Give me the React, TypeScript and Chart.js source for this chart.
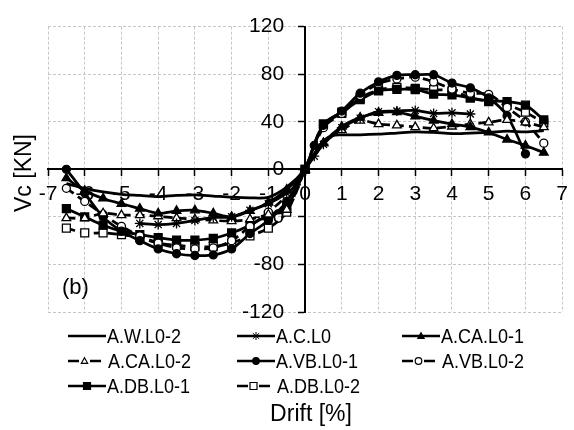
import React, { useEffect, useRef } from "react";
import { Chart, registerables } from "chart.js";

Chart.register(...registerables);

// ---------- data ----------
const seriesNames = [
  "A.W.L0-2",
  "A.C.L0",
  "A.CA.L0-1",
  "A.CA.L0-2",
  "A.VB.L0-1",
  "A.VB.L0-2",
  "A.DB.L0-1",
  "A.DB.L0-2",
];

const xTicksMin = -7;
const xTicksMax = 7;
const yTicksMin = -120;
const yTicksMax = 120;

const awl02Drift = [-6.5, -6, -5.5, -5, -4.5, -4, -3.5, -3, -2.5, -2, -1.5, -1, -0.5, 0, 0.25, 0.5, 0.75, 1, 1.5, 2, 2.5, 3, 3.5, 4, 4.5, 5, 5.5, 6, 6.5];
const awl02Vc = [-12, -16, -19, -21, -22, -23, -22, -21.5, -22.5, -23.5, -24, -23.5, -15, 0, 13, 24, 28.5, 29, 29, 29.5, 30.5, 31.5, 31, 30, 30.5, 31, 32, 31.5, 32.5];

const acl0Drift = [-4.5, -4, -3.5, -3, -2.5, -2, -1.5, -1, -0.5, -0.25, 0, 0.25, 0.5, 1, 1.5, 2, 2.5, 3, 3.5, 4, 4.5];
const acl0Vc = [-45.5, -46.5, -45.5, -43, -40.5, -40, -34.5, -29, -20, -13, 0, 11, 21, 35, 43, 48.5, 49, 49.5, 47, 47.5, 46.5];

const aca1Drift = [-6.5, -6, -5.5, -5, -4.5, -4, -3.5, -3, -2.5, -2, -1.5, -1, -0.5, 0, 0.5, 1, 1.5, 2, 2.5, 3, 3.5, 4, 4.5, 5, 5.5, 6, 6.5];
const aca1Vc = [-7.5, -18, -24.5, -29, -33, -37, -35, -34.5, -37, -40, -35, -28, -17, 0, 22, 36, 43.5, 47.5, 48, 44.5, 41, 38, 35.5, 31, 25, 20, 14];

const aca2Drift = [-6.5, -6, -5.5, -5, -4.5, -4, -3.5, -3, -2.5, -2, -1.5, -1, -0.5, 0, 0.5, 1, 1.5, 2, 2.5, 3, 3.5, 4, 4.5, 5, 5.5, 6, 6.5];
const aca2Vc = [-41, -41, -37, -38.5, -38.5, -39.5, -41, -42, -43, -43.5, -42, -38, -34, 0, 22, 33, 41, 38, 37, 35.5, 34.5, 36, 38, 39.5, 41.5, 39.5, 35.5];

const avb1Drift = [-6.5, -6, -5.5, -5, -4.5, -4, -3.5, -3, -2.5, -2, -1.5, -1, -0.5, 0, 0.25, 0.5, 1, 1.5, 2, 2.5, 3, 3.5, 4, 4.5, 5, 5.5, 6];
const avb1Vc = [0, -20, -40, -52, -60, -67, -71, -72.5, -72, -67, -54, -43, -27, 0, 20, 37, 49, 64, 73.5, 79, 79.5, 79.5, 72.5, 68.5, 60, 45, 13];

const avb2Drift = [-6.5, -6, -5.5, -5, -4.5, -4, -3.5, -3, -2.5, -2, -1.5, -1, -0.5, 0, 0.5, 1, 1.5, 2, 2.5, 3, 3.5, 4, 4.5, 5, 5.5, 6, 6.5];
const avb2Vc = [-16, -27, -38, -48, -56, -62, -66, -67, -66, -60, -48, -36, -22, 0, 35, 47, 62, 72, 76, 77.5, 73.5, 67.5, 64, 63, 52, 40, 22];

const adb1Drift = [-6.5, -6, -5.5, -5, -4.5, -4, -3.5, -3, -2.5, -2, -1.5, -1, -0.5, 0, 0.5, 1, 1.5, 2, 2.5, 3, 3.5, 4, 4.5, 5, 5.5, 6, 6.5];
const adb1Vc = [-33, -40, -47, -52, -55, -57.5, -59.5, -59.5, -58, -53.5, -47, -38.5, -31.5, 0, 38, 48, 58.5, 66, 67.3, 67, 63.3, 62.5, 60, 57.5, 57, 54, 41.5];

const adb2Drift = [-6.5, -6, -5.5, -5, -4.5, -4, -3.5, -3, -2.5, -2, -1.5, -1, -0.5, 0, 0.5, 1, 1.5, 2, 2.5, 3, 3.5, 4, 4.5, 5, 5.5, 6, 6.5];
const adb2Vc = [-49.5, -53.5, -53.5, -55, -57.5, -62, -64, -65, -65, -62, -56, -49.5, -36, 0, 38, 47, 60, 66.5, 69, 68, 67, 66, 60, 57, 54, 48, 39];

// ---------- styles ----------
const FONT = '"Liberation Sans", Arial, sans-serif';
type Marker = "none" | "star" | "triangle" | "circle" | "rect";
const seriesStyle: { marker: Marker; open: boolean; dashed: boolean }[] = [
  { marker: "none", open: false, dashed: false },
  { marker: "star", open: false, dashed: false },
  { marker: "triangle", open: false, dashed: false },
  { marker: "triangle", open: true, dashed: true },
  { marker: "circle", open: false, dashed: false },
  { marker: "circle", open: true, dashed: true },
  { marker: "rect", open: false, dashed: false },
  { marker: "rect", open: true, dashed: true },
];
const seriesData = [
  [awl02Drift, awl02Vc],
  [acl0Drift, acl0Vc],
  [aca1Drift, aca1Vc],
  [aca2Drift, aca2Vc],
  [avb1Drift, avb1Vc],
  [avb2Drift, avb2Vc],
  [adb1Drift, adb1Vc],
  [adb2Drift, adb2Vc],
];

function markerRadius(m: Marker) {
  if (m === "rect") return 5.6;
  if (m === "triangle") return 5;
  if (m === "star") return 5;
  return 4;
}

function drawMarker(ctx: CanvasRenderingContext2D, m: Marker, open: boolean, x: number, y: number, r: number) {
  ctx.save();
  ctx.lineWidth = 1.2;
  ctx.strokeStyle = "#000";
  ctx.fillStyle = open ? "#fff" : "#000";
  ctx.setLineDash([]);
  ctx.beginPath();
  if (m === "circle") {
    ctx.arc(x, y, r, 0, Math.PI * 2);
    ctx.fill();
    ctx.stroke();
  } else if (m === "rect") {
    ctx.rect(x - r, y - r, 2 * r, 2 * r);
    ctx.fill();
    ctx.stroke();
  } else if (m === "triangle") {
    ctx.moveTo(x, y - r);
    ctx.lineTo(x + r * 0.95, y + r * 0.7);
    ctx.lineTo(x - r * 0.95, y + r * 0.7);
    ctx.closePath();
    ctx.fill();
    ctx.stroke();
  } else if (m === "star") {
    ctx.lineWidth = 1;
    ctx.moveTo(x, y - r);
    ctx.lineTo(x, y + r);
    ctx.moveTo(x - r * 0.8, y - r * 0.7);
    ctx.lineTo(x + r * 0.8, y + r * 0.7);
    ctx.moveTo(x - r * 0.8, y + r * 0.7);
    ctx.lineTo(x + r * 0.8, y - r * 0.7);
    ctx.stroke();
  }
  ctx.restore();
}

const legendColX = [68, 237, 402];
const legendRowY = [336, 361, 386];

const overlayPlugin = {
  id: "overlay",
  afterDraw(chart: any) {
    const ctx: CanvasRenderingContext2D = chart.ctx;
    ctx.save();
    // legend
    ctx.textBaseline = "middle";
    ctx.textAlign = "left";
    seriesNames.forEach((name, i) => {
      const st = seriesStyle[i];
      const x0 = legendColX[i % 3];
      const y = legendRowY[Math.floor(i / 3)];
      const len = 38;
      ctx.strokeStyle = "#000";
      ctx.lineWidth = 2.5;
      ctx.beginPath();
      if (st.dashed) {
        ctx.moveTo(x0, y);
        ctx.lineTo(x0 + 11, y);
        ctx.moveTo(x0 + 22, y);
        ctx.lineTo(x0 + 33, y);
      } else {
        ctx.moveTo(x0, y);
        ctx.lineTo(x0 + len, y);
      }
      ctx.stroke();
      const mx = st.dashed ? x0 + 16.5 : x0 + len / 2;
      if (st.marker !== "none") {
        drawMarker(ctx, st.marker, st.open, mx, y, st.marker === "rect" ? 3.5 : st.marker === "star" ? 4 : 3.3);
      }
      ctx.fillStyle = "#000";
      ctx.save();
      ctx.translate(x0 + (st.dashed ? 40 : len + 1), y + 1);
      ctx.scale(0.9, 1);
      ctx.font = `20px ${FONT}`;
      ctx.fillText(name, 0, 0);
      ctx.restore();
    });
    // axis titles and panel label
    ctx.fillStyle = "#000";
    ctx.font = `23px ${FONT}`;
    ctx.textAlign = "center";
    ctx.fillText("Drift [%]", 311, 415);
    ctx.save();
    ctx.translate(25, 173);
    ctx.rotate(-Math.PI / 2);
    ctx.fillText("Vc [KN]", 0, 0);
    ctx.restore();
    ctx.textAlign = "left";
    ctx.font = `22px ${FONT}`;
    ctx.fillText("(b)", 62, 288);
    ctx.restore();
  },
};

export default function App() {
  const ref = useRef<HTMLCanvasElement | null>(null);
  useEffect(() => {
    document.body.style.margin = "0";
    const canvas = ref.current;
    if (!canvas) return;
    const datasets = seriesNames.map((name, i) => {
      const st = seriesStyle[i];
      const [xs, ys] = seriesData[i];
      return {
        label: name,
        data: xs.map((x, k) => ({ x, y: ys[k] })),
        borderColor: "#000",
        borderWidth: 2.75,
        borderDash: st.dashed ? [9, 5] : [],
        tension: 0.3,
        pointStyle: st.marker === "none" ? false : st.marker,
        pointRadius: st.marker === "none" ? 0 : markerRadius(st.marker),
        pointBackgroundColor: st.open ? "#fff" : "#000",
        pointBorderColor: "#000",
        pointBorderWidth: 1.3,
        fill: false,
      };
    });
    const tickFont = { family: FONT, size: 21 };
    const chart = new Chart(canvas, {
      type: "line",
      data: { datasets } as any,
      plugins: [overlayPlugin],
      options: {
        animation: false,
        responsive: false,
        maintainAspectRatio: false,
        layout: { padding: { left: 48, right: 8, top: 16, bottom: 118 } },
        plugins: { legend: { display: false }, tooltip: { enabled: false } },
        scales: {
          x: {
            type: "linear",
            min: xTicksMin,
            max: xTicksMax,
            position: { y: 0 } as any,
            ticks: { stepSize: 1, font: tickFont, color: "#000", padding: 6, maxRotation: 0, autoSkip: false },
            grid: { color: "#c6c6c6", lineWidth: 1, tickColor: "#000", tickLength: 6, tickWidth: 1.5 },
            border: { display: true, color: "#000", width: 2, dash: [3, 2] },
          },
          y: {
            type: "linear",
            min: yTicksMin,
            max: yTicksMax,
            position: { x: 0 } as any,
            ticks: {
              stepSize: 40,
              font: tickFont,
              color: "#000",
              padding: 14,
              autoSkip: false,
              callback: (v: any) => `${v}\u2002\u2002`,
            },
            grid: { color: "#c6c6c6", lineWidth: 1, tickColor: "#000", tickLength: 6, tickWidth: 1.5 },
            border: { display: true, color: "#000", width: 2, dash: [3, 2] },
          },
        },
      } as any,
    });
    return () => chart.destroy();
  }, []);
  return (
    <div style={{ width: 574, height: 430 }}>
      <canvas ref={ref} width={574} height={430} style={{ display: "block" }} />
    </div>
  );
}
